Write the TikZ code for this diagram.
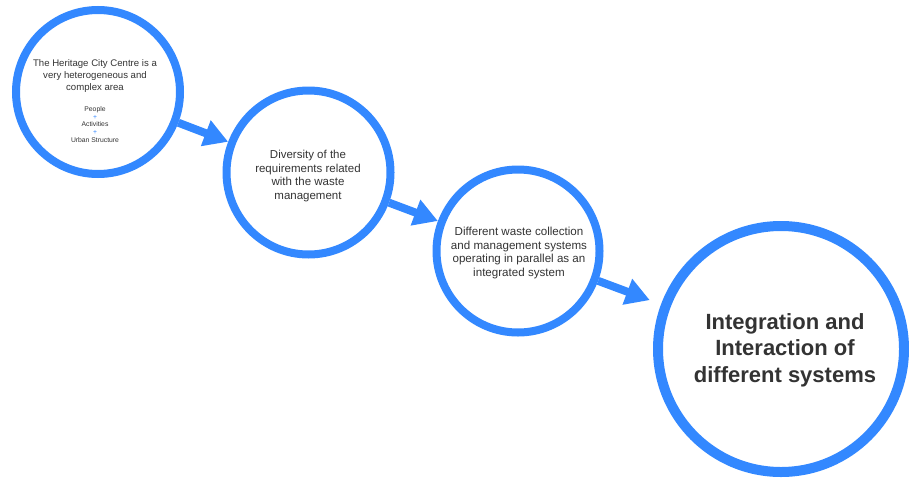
\documentclass[tikz,border=0pt]{standalone}
\usepackage{fontspec}
\setmainfont{Liberation Sans}
\usetikzlibrary{arrows.meta}
\definecolor{myblue}{RGB}{51,136,255}
\definecolor{txt}{RGB}{51,51,51}
\tikzset{
  ring/.style={circle, draw=myblue, line width=8pt, inner sep=0pt},
  bigring/.style={circle, draw=myblue, line width=10pt, inner sep=0pt},
  flow/.style={draw=myblue, line width=8pt, -{Triangle[length=24pt,width=26pt]}},
  label/.style={text=txt, align=center, inner sep=0pt},
}
\begin{document}
\begin{tikzpicture}[x=1pt,y=-1pt]
\fill[white] (0,0) rectangle (909,479);
\useasboundingbox (0,0) rectangle (909,479);

\node[ring, minimum size=164pt] (c1) at (98,92) {};
\node[ring, minimum size=164pt] (c2) at (308.5,172.5) {};
\node[ring, minimum size=163pt] (c3) at (518,251) {};
\node[bigring, minimum size=246pt] (c4) at (781,349) {};

\node[label, font=\fontsize{9.6}{12}\selectfont] (t1) at (95,76)
  {The Heritage City Centre is a\\very heterogeneous and\\complex area};
\node[label, font=\fontsize{6.8}{7.7}\selectfont] (t1b) at (95,124.5)
  {People\\{\color{myblue}+}\\Activities\\{\color{myblue}+}\\Urban Structure};
\node[label, font=\fontsize{11.5}{13.7}\selectfont] (t2) at (308,176)
  {Diversity of the\\requirements related\\with the waste\\management};
\node[label, font=\fontsize{11.6}{13.9}\selectfont] (t3) at (519,253)
  {Different waste collection\\and management systems\\operating in parallel as an\\integrated system};
\node[label, font=\bfseries\fontsize{22}{26.5}\selectfont] (t4) at (785,350)
  {Integration and\\Interaction of\\different systems};

\draw[flow] (c1) -- (c2);
\draw[flow] (c2) -- (c3);
\draw[flow, shorten >=12pt] (c3) -- (c4);
\end{tikzpicture}
\end{document}
